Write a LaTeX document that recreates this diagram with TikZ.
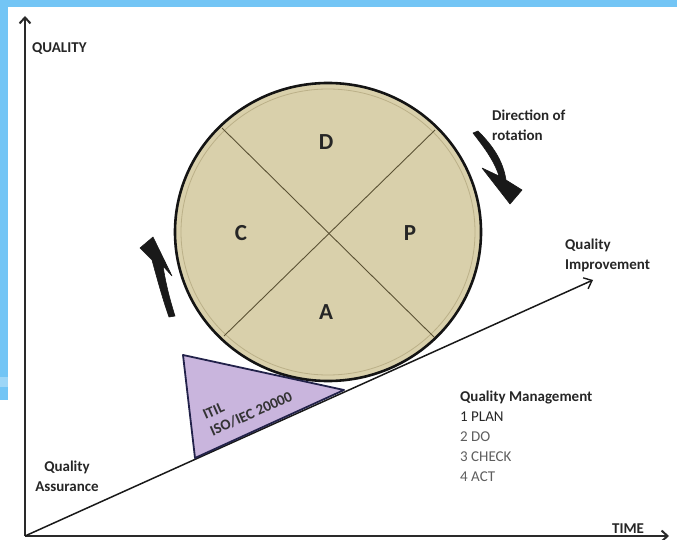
\documentclass[tikz,border=0pt]{standalone}
\usepackage{fontspec}
\setmainfont{Carlito}
\usetikzlibrary{arrows.meta}
\definecolor{skyband}{HTML}{73C5F5}
\definecolor{skylight}{HTML}{9DD6F7}
\definecolor{wheel}{HTML}{D9D0AB}
\definecolor{wheelring}{HTML}{BBB088}
\definecolor{spoke}{HTML}{5B5234}
\definecolor{wedge}{HTML}{C9B5DD}
\definecolor{wedgeline}{HTML}{22224A}
\definecolor{axisgray}{HTML}{2A2A2A}
\definecolor{softgray}{HTML}{5E5E5E}
\begin{document}
\begin{tikzpicture}[x=1pt,y=-1pt,
  lbl/.style={font=\fontsize{15}{19.5}\selectfont\bfseries, text=black!85, inner sep=0pt, anchor=north west, align=left},
  letter/.style={font=\fontsize{23}{26}\selectfont\bfseries, text=black!85, inner sep=0pt},
  wedgetext/.style={font=\fontsize{15}{18}\selectfont\bfseries, text=black!80, inner sep=0pt, anchor=south west, align=left, rotate=24},
  axisline/.style={draw=axisgray, line width=2.6pt, -{Straight Barb[length=6pt,width=11pt,line width=2pt]}},
  rotarrow/.style={fill=black!90, draw=black!90, line width=0.6pt, line join=round}
]
\useasboundingbox (0,0) rectangle (677,540);
% blue frame
\fill[skyband] (0,0) rectangle (677,7);
\fill[skyband] (0,0) rectangle (8,400);
\fill[skylight] (0,377) rectangle (8,387);

% axes
\coordinate (origin) at (25,536);
\coordinate (ytop) at (25,16);
\coordinate (xend) at (669,536);
\coordinate (improve) at (593,280);
\draw[axisline] (origin) -- (ytop);
\draw[axisline] (origin) -- (xend);
\draw[draw=black!90, line width=1.5pt, -{Straight Barb[length=7pt,width=12pt,line width=1.4pt]}] (origin) -- (improve);

% wheel
\coordinate (hub) at (328,232);
\fill[wheel] (hub) ellipse [x radius=153, y radius=149];
\draw[wheelring, line width=0.8pt] (hub) ellipse [x radius=147, y radius=143];
\draw[black!92, line width=2.6pt] (hub) ellipse [x radius=153, y radius=149];
\coordinate (s1a) at (222,128);
\coordinate (s1b) at (434,337);
\coordinate (s2a) at (435,130);
\coordinate (s2b) at (224,336);
\draw[spoke, line width=0.9pt] (s1a) -- (s1b);
\draw[spoke, line width=0.9pt] (s2a) -- (s2b);
\node[letter] (lD) at (326,142) {D};
\node[letter] (lC) at (241,233) {C};
\node[letter] (lP) at (410,233) {P};
\node[letter] (lA) at (326,312) {A};

% wedge
\filldraw[fill=wedge, draw=wedgeline, line width=1.8pt, line join=round] (183,355) -- (344,390) -- (195,458) -- cycle;
\node[wedgetext] (itil) at (213,437) {ITIL\\ISO/IEC 20000};

% rotation arrows
\fill[rotarrow] (473,133) -- (478,131) .. controls (492,145) and (503,160) .. (506,180)
  -- (522,190) -- (510,204) -- (482,168) -- (499,176)
  .. controls (494,160) and (483,146) .. (473,133) -- cycle;
\fill[rotarrow] (140,248) -- (153,237) -- (172,276) -- (163,266)
  .. controls (166,285) and (170,300) .. (175,316) -- (169,317)
  .. controls (163,300) and (158,282) .. (152,260) -- cycle;

% labels
\node[lbl] (quality) at (32,42) {QUALITY};
\node[lbl] (time) at (612,524) {TIME};
\node[lbl] (direction) at (492,110) {Direction of\\rotation};
\node[lbl] (qimp) at (565,239) {Quality\\Improvement};
\node[lbl, anchor=north, align=center] (qass) at (67,461) {Quality\\Assurance};
\node[lbl, font=\fontsize{15}{20}\selectfont] (qman) at (460,391) {\textbf{Quality Management}\\1 PLAN\\\textcolor{softgray}{2 DO}\\\textcolor{softgray}{3 CHECK}\\\textcolor{softgray}{4 ACT}};
\end{tikzpicture}
\end{document}
